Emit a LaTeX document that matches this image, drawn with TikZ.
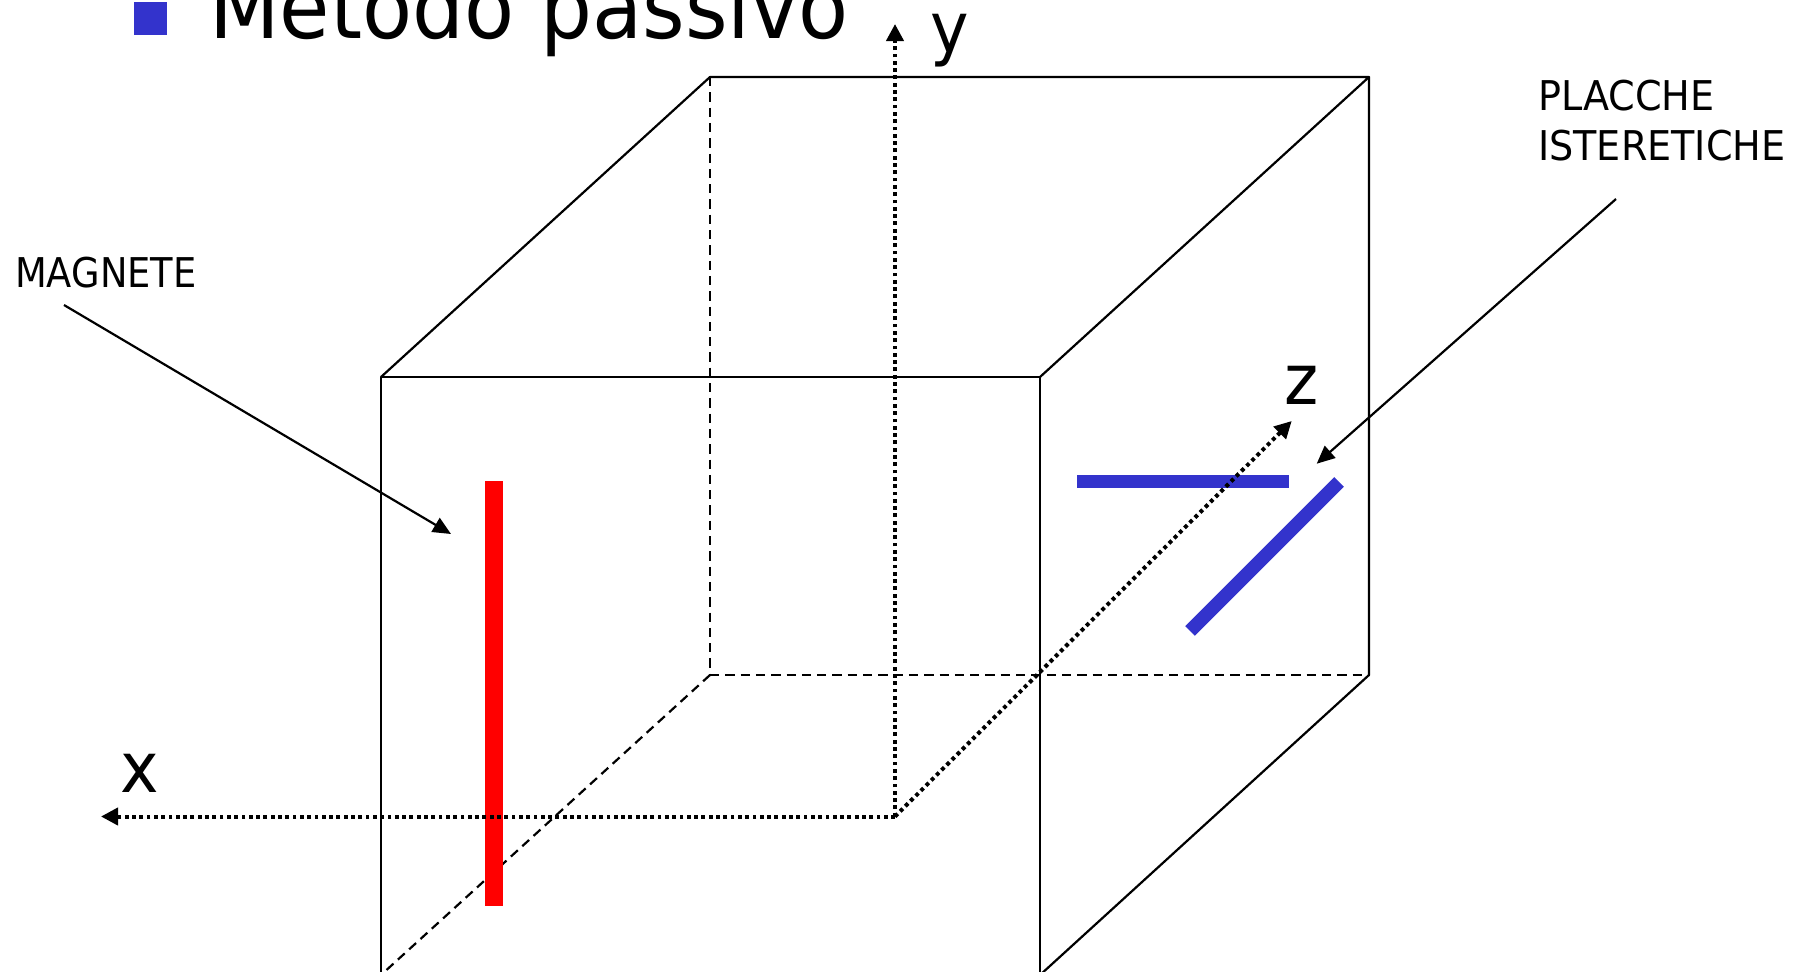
\documentclass[tikz,border=0pt]{standalone}
\usepackage{fontspec}
\setmainfont[FakeStretch=0.93]{DejaVu Sans}
\usetikzlibrary{arrows.meta}
\tikzset{
    edgeline/.style={black, line width=2.2pt},
    hiddenline/.style={black, line width=2.2pt, dash pattern=on 9.3pt off 6pt},
    axisline/.style={black, line width=4pt, dash pattern=on 3.8pt off 3.5pt, -{Triangle[length=17pt,width=17pt]}},
    pointer/.style={black, line width=2.2pt, -{Triangle[length=18pt,width=16pt]}},
    bluebar/.style={line width=13.5pt, draw=barblue},
    axislabel/.style={inner sep=0pt, anchor=base west, font=\fontsize{70}{70}\selectfont},
    notelabel/.style={inner sep=0pt, anchor=base west, align=left, font=\fontsize{41}{50}\selectfont}
}
\definecolor{barblue}{HTML}{3333CC}
\begin{document}
\begin{tikzpicture}[x=1pt, y=-1pt]
    \useasboundingbox (0,0) rectangle (1805,972);
    \clip (0,0) rectangle (1805,972);
    % Cube corners
    \coordinate (ftl) at (381,377);
    \coordinate (ftr) at (1040,377);
    \coordinate (fbl) at (381,975);
    \coordinate (fbr) at (1040,975);
    \coordinate (btl) at (710,77);
    \coordinate (btr) at (1369,77);
    \coordinate (bbl) at (710,675);
    \coordinate (bbr) at (1369,675);
    % Hidden edges
    \foreach \a/\b in {btl/bbl, bbl/bbr, bbl/fbl} {
        \draw[hiddenline] (\a) -- (\b);
    }
    % Visible edges
    \draw[edgeline, line join=round] (fbl) -- (ftl) -- (ftr) -- (fbr);
    \draw[edgeline, line join=round] (ftl) -- (btl) -- (btr) -- (ftr);
    \draw[edgeline, line join=round] (btr) -- (bbr) -- (fbr);
    % Magnet and plates
    \fill[red] (485,481) rectangle (503,906);
    \draw[bluebar] (1077,481.3) -- (1289,481.3);
    \draw[bluebar] (1190,631) -- (1339,482);
    % Axes
    \coordinate (origin) at (895,816.5);
    \coordinate (ytip) at (895,24);
    \coordinate (xtip) at (101,816.5);
    \coordinate (ztip) at (1291.7,421);
    \foreach \t in {ytip, xtip, ztip} {
        \draw[axisline] (origin) -- (\t);
    }
    \node[axislabel] (ylabel) at (930,52) {y};
    \node[axislabel] (xlabel) at (120,792) {x};
    \node[axislabel] (zlabel) at (1284,404) {z};
    % Title
    \fill[barblue] (134,2) rectangle (167,35);
    \node[inner sep=0pt, anchor=base west, font=\fontsize{88}{88}\selectfont] (title) at (209,38) {Metodo passivo};
    % Notes
    \node[notelabel, xscale=0.965] (magnete) at (15,287) {MAGNETE};
    \node[notelabel] (placche) at (1538,160) {PLACCHE\\ISTERETICHE};
    \coordinate (magstart) at (64,305);
    \coordinate (magtip) at (451,534);
    \coordinate (plastart) at (1616,199);
    \coordinate (platip) at (1316.7,463.7);
    \draw[pointer] (magstart) -- (magtip);
    \draw[pointer] (plastart) -- (platip);
\end{tikzpicture}
\end{document}
